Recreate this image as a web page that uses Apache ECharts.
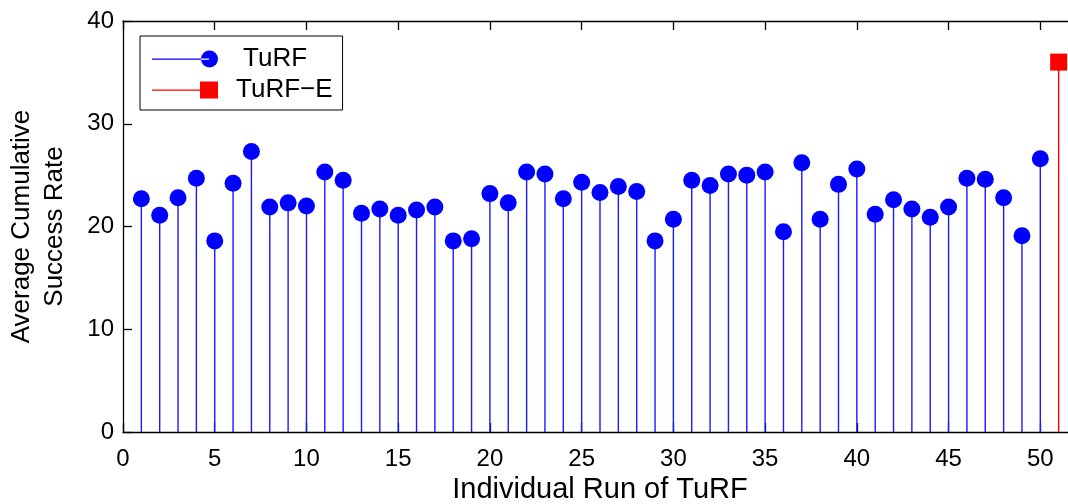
<!DOCTYPE html>
<html>
<head>
<meta charset="utf-8">
<script src="https://cdn.jsdelivr.net/npm/echarts@6/dist/echarts.min.js"></script>
<style>
  html, body { margin: 0; padding: 0; background: #fff; }
  #chart { width: 1068px; height: 504px; }
</style>
</head>
<body>
<div id="chart"></div>
<script>
// run index 1..50 and the TuRF-E result at 51
const runs = [1, 2, 3, 4, 5, 6, 7, 8, 9, 10, 11, 12, 13, 14, 15, 16, 17, 18, 19, 20,
  21, 22, 23, 24, 25, 26, 27, 28, 29, 30, 31, 32, 33, 34, 35, 36, 37, 38, 39, 40,
  41, 42, 43, 44, 45, 46, 47, 48, 49, 50];
const turfRate = [22.7, 21.1, 22.8, 24.7, 18.6, 24.2, 27.3, 21.9, 22.3, 22.0,
  25.3, 24.5, 21.3, 21.7, 21.1, 21.6, 21.9, 18.6, 18.8, 23.2,
  22.3, 25.3, 25.1, 22.7, 24.3, 23.3, 23.9, 23.4, 18.6, 20.7,
  24.5, 24.0, 25.1, 25.0, 25.3, 19.5, 26.2, 20.7, 24.1, 25.6,
  21.2, 22.6, 21.7, 20.9, 21.9, 24.7, 24.6, 22.8, 19.1, 26.6];
const turfERun = [51];
const turfERate = [36.0];
const xTicks = { min: 0, max: 52, step: 5 };
const yTicks = { min: 0, max: 40, step: 10 };

const font = "Liberation Sans, Arial, Helvetica, sans-serif";
const blue = "#0000ff";
const red = "#ff0000";

const turfPts = runs.map((r, i) => [r, turfRate[i]]);
const turfEPts = turfERun.map((r, i) => [r, turfERate[i]]);

// stem line from the zero baseline up to the value
const stem = (color) => (params, api) => {
  const top = api.coord([api.value(0), api.value(1)]);
  const base = api.coord([api.value(0), 0]);
  return {
    type: "line",
    shape: { x1: base[0], y1: base[1], x2: top[0], y2: top[1] },
    style: { stroke: color, lineWidth: 1.4 },
  };
};

const chart = echarts.init(document.getElementById("chart"), null, { renderer: "canvas" });

const axisLine = { show: true, onZero: false, lineStyle: { color: "#000", width: 1.3 } };
const tickIn = { show: true, inside: true, length: 9, lineStyle: { color: "#000", width: 1.3 } };

chart.setOption({
  animation: false,
  backgroundColor: "#fff",
  textStyle: { fontFamily: font },
  // right edge of the box sits just past the picture
  grid: { left: 123, top: 21, right: -9, bottom: 72, containLabel: false, outerBoundsMode: "none" },
  legend: {
    orient: "vertical",
    left: 140,
    top: 36,
    padding: [10, 10, 7, 12],
    itemGap: 5,
    itemWidth: 66,
    itemHeight: 17,
    symbolKeepAspect: false,
    backgroundColor: "#fff",
    borderColor: "#000",
    borderWidth: 1,
    borderRadius: 0,
    selectedMode: false,
    textStyle: { fontSize: 26, color: "#000", fontFamily: font },
    data: [
      {
        name: "TuRF",
        icon: "path://M0 8 L57 8 L57 9.2 L0 9.2 Z M49 8.5 A8.5 8.5 0 1 0 66 8.5 A8.5 8.5 0 1 0 49 8.5 Z",
        textStyle: { padding: [0, 0, 0, 20] },
      },
      {
        name: "TuRF\u2212E",
        icon: "path://M0 8 L48 8 L48 9.2 L0 9.2 Z M48 0 L66 0 L66 17 L48 17 Z",
        textStyle: { padding: [0, 0, 0, 13] },
      },
    ],
  },
  xAxis: [
    {
      type: "value",
      position: "bottom",
      min: xTicks.min,
      max: xTicks.max,
      interval: xTicks.step,
      axisLine,
      axisTick: tickIn,
      splitLine: { show: false },
      axisLabel: {
        color: "#000", fontSize: 24, margin: 15, fontFamily: font,
        showMaxLabel: false,
        formatter: (v) => (v % 5 === 0 ? String(v) : ""),
      },
      name: "Individual Run of TuRF",
      nameLocation: "middle",
      nameGap: 43,
      nameTextStyle: { color: "#000", fontSize: 29, fontFamily: font },
    },
    {
      type: "value",
      position: "top",
      min: xTicks.min,
      max: xTicks.max,
      interval: xTicks.step,
      axisLine,
      axisTick: tickIn,
      splitLine: { show: false },
      axisLabel: { show: false },
    },
  ],
  yAxis: [
    {
      type: "value",
      position: "left",
      min: yTicks.min,
      max: yTicks.max,
      interval: yTicks.step,
      axisLine,
      axisTick: tickIn,
      splitLine: { show: false },
      axisLabel: { color: "#000", fontSize: 24, margin: 9, fontFamily: font },
      name: "Average Cumulative\nSuccess Rate",
      nameLocation: "middle",
      nameRotate: 90,
      nameGap: 52,
      nameTextStyle: { color: "#000", fontSize: 26, lineHeight: 33, fontFamily: font, align: "center" },
    },
    {
      type: "value",
      position: "right",
      min: yTicks.min,
      max: yTicks.max,
      interval: yTicks.step,
      axisLine,
      axisTick: tickIn,
      splitLine: { show: false },
      axisLabel: { show: false },
    },
  ],
  series: [
    {
      name: "TuRF stem",
      type: "custom",
      renderItem: stem("#1a1aff"),
      data: turfPts,
      encode: { x: 0, y: 1 },
      z: 2,
    },
    {
      name: "TuRF",
      type: "scatter",
      symbol: "circle",
      symbolSize: 17,
      itemStyle: { color: blue, opacity: 1 },
      data: turfPts,
      z: 3,
    },
    {
      name: "TuRF\u2212E stem",
      type: "custom",
      renderItem: stem(red),
      data: turfEPts,
      encode: { x: 0, y: 1 },
      z: 2,
    },
    {
      name: "TuRF\u2212E",
      type: "scatter",
      symbol: "rect",
      symbolSize: 17,
      itemStyle: { color: red, opacity: 1 },
      data: turfEPts,
      z: 3,
    },
  ],
});
</script>
</body>
</html>
